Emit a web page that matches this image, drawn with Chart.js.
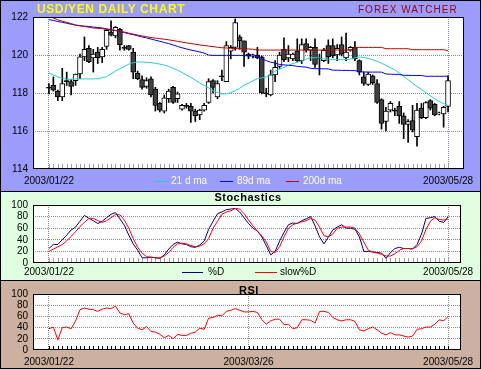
<!DOCTYPE html>
<html><head><meta charset="utf-8">
<script src="https://cdn.jsdelivr.net/npm/chart.js@4.4.1/dist/chart.umd.min.js"></script>
<style>
html,body{margin:0;padding:0;background:#fff;}
#wrap{position:relative;width:481px;height:369px;overflow:hidden;background:#000;font-family:"Liberation Sans",Arial,sans-serif;}
.panel{position:absolute;left:0;width:481px;}
.panel canvas{position:absolute;left:0;top:0;}
#p1{top:0;height:191px;background:#9c9cfa;}
#p2{top:192px;height:88px;background:#e0ffe0;}
#p3{top:281px;height:88px;background:#ccb0a0;}
#frame{position:absolute;left:0;top:0;width:481px;height:369px;box-sizing:border-box;border:1px solid #000;pointer-events:none;z-index:9;}
.txt{position:absolute;white-space:nowrap;line-height:1;z-index:5;}
.ln{position:absolute;height:1px;z-index:5;}
.ctr{text-align:center;width:200px;}
</style>
</head><body>
<div id="wrap">
  <div class="panel" id="p1"><canvas id="c1" width="481" height="191"></canvas></div>
  <div class="panel" id="p2"><canvas id="c2" width="481" height="88"></canvas></div>
  <div class="panel" id="p3"><canvas id="c3" width="481" height="88"></canvas></div>

  <div class="txt" style="left:37px;top:3px;font-size:12px;font-weight:bold;color:#ffff00;letter-spacing:0.6px">USD/YEN DAILY CHART</div>
  <div class="txt" style="left:358px;top:5px;font-size:10px;color:#990000;letter-spacing:1px">FOREX WATCHER</div>

  <div class="ln" style="left:154px;top:181px;width:14px;background:#20d0d0"></div>
  <div class="txt" style="left:171px;top:176px;font-size:10px;color:#fff">21 d ma</div>
  <div class="ln" style="left:220px;top:181px;width:13px;background:#0000ff"></div>
  <div class="txt" style="left:237px;top:176px;font-size:10px;color:#fff">89d ma</div>
  <div class="ln" style="left:286px;top:181px;width:13px;background:#c00000"></div>
  <div class="txt" style="left:303px;top:176px;font-size:10px;color:#fff">200d ma</div>

  <div class="txt ctr" style="left:148px;top:192px;font-size:11px;font-weight:bold;color:#000;letter-spacing:0.5px">Stochastics</div>
  <div class="ln" style="left:182px;top:272px;width:21px;background:#000080"></div>
  <div class="txt" style="left:208px;top:267px;font-size:10px;color:#000">%D</div>
  <div class="ln" style="left:255px;top:272px;width:22px;background:#ff0000"></div>
  <div class="txt" style="left:280px;top:267px;font-size:10px;color:#000">slow%D</div>

  <div class="txt ctr" style="left:149px;top:285px;font-size:11px;font-weight:bold;color:#000;letter-spacing:0.5px">RSI</div>
  <div id="frame"></div>
</div>
<script>
// ---------- data ----------
const dates = [
 '2003/01/22','2003/01/23','2003/01/24','2003/01/27','2003/01/28','2003/01/29','2003/01/30','2003/01/31',
 '2003/02/03','2003/02/04','2003/02/05','2003/02/06','2003/02/07','2003/02/10','2003/02/11','2003/02/12','2003/02/13','2003/02/14',
 '2003/02/17','2003/02/18','2003/02/19','2003/02/20','2003/02/21','2003/02/24','2003/02/25','2003/02/26','2003/02/27','2003/02/28',
 '2003/03/03','2003/03/04','2003/03/05','2003/03/06','2003/03/07','2003/03/10','2003/03/11','2003/03/12','2003/03/13','2003/03/14',
 '2003/03/17','2003/03/18','2003/03/19','2003/03/20','2003/03/21','2003/03/24','2003/03/25','2003/03/26','2003/03/27','2003/03/28','2003/03/31',
 '2003/04/01','2003/04/02','2003/04/03','2003/04/04','2003/04/07','2003/04/08','2003/04/09','2003/04/10','2003/04/11',
 '2003/04/14','2003/04/15','2003/04/16','2003/04/17','2003/04/18','2003/04/21','2003/04/22','2003/04/23','2003/04/24','2003/04/25',
 '2003/04/28','2003/04/29','2003/04/30',
 '2003/05/01','2003/05/02','2003/05/05','2003/05/06','2003/05/07','2003/05/08','2003/05/09','2003/05/12','2003/05/13','2003/05/14',
 '2003/05/15','2003/05/16','2003/05/19','2003/05/20','2003/05/21','2003/05/22','2003/05/23','2003/05/26','2003/05/27','2003/05/28'
];
const tickDatesMain = ['2003/01/22','2003/05/28'];
const tickDatesRsi = ['2003/01/22','2003/03/26','2003/05/28'];
const priceTicks = [114,116,118,120,122];
const pctTicks = [0,20,40,60,80,100];

const open = [118.25,118.4,118.1,117.8,118.6,118.6,118.65,119.0,119.9,120.35,
119.85,120.15,119.9,120.45,121.2,121.0,121.35,120.35,120.5,120.15,
119.05,118.7,118.35,118.75,118.2,117.45,117.05,117.7,118.3,117.7,
117.15,117.3,117.3,117.05,116.85,117.1,117.5,118.65,117.8,118.85,
118.6,120.2,120.4,120.95,120.75,120.05,119.95,120.0,119.9,117.95,
117.9,118.95,119.4,120.3,119.85,119.8,120.2,119.7,120.6,120.25,
120.4,119.8,119.7,120.5,120.5,120.0,120.55,119.85,120.25,120.4,
119.7,118.85,118.45,118.9,118.5,117.65,116.5,117.1,117.05,117.3,
116.8,116.35,116.55,115.7,117.2,116.7,117.6,117.4,116.9,116.9,
117.3];
const high = [118.5,118.85,118.15,119.3,119.1,118.7,119.0,120.05,120.95,120.5,
120.3,120.4,120.4,121.35,121.8,121.5,121.4,120.5,120.5,120.35,
119.15,118.9,118.8,118.85,118.3,117.5,117.9,118.2,118.35,118.05,
117.4,117.45,117.45,117.15,117.15,117.45,118.75,118.7,118.65,119.2,
120.7,120.5,121.9,121.05,120.75,120.1,120.05,120.4,119.95,118.25,
119.2,119.7,120.15,120.9,120.5,120.1,120.85,120.85,120.85,120.45,
120.85,120.05,120.35,120.8,120.85,120.55,120.95,121.15,120.45,120.7,
119.75,119.1,119.1,118.95,118.7,117.7,117.25,117.55,117.2,117.55,
116.95,116.6,117.35,117.45,117.45,117.55,117.65,117.45,117.0,117.3,
118.9];
const low = [117.95,118.1,117.6,117.6,118.4,117.9,118.4,118.75,119.7,119.6,
119.1,119.55,119.6,120.3,121.0,120.9,120.25,120.25,120.25,118.75,
118.7,118.2,118.25,117.8,117.05,117.0,116.95,117.5,117.45,117.5,
117.1,117.2,116.45,116.5,116.6,117.05,117.45,118.0,117.7,118.65,
118.6,119.8,120.25,120.3,119.4,119.8,119.85,119.8,117.95,117.8,
117.85,118.6,119.3,119.65,119.65,119.7,119.65,119.55,120.15,119.7,
119.35,118.95,119.65,119.55,119.85,119.7,119.95,119.7,120.2,119.7,
118.95,118.4,118.4,118.45,117.45,116.1,116.0,117.0,116.8,116.4,
115.6,115.4,115.95,115.2,116.65,116.65,117.1,116.8,116.85,116.2,
117.0];
const close = [118.25,118.15,117.8,118.5,118.6,118.35,119.0,119.9,120.3,119.65,
120.05,119.85,120.3,121.3,121.05,121.45,120.55,120.35,120.3,119.1,
118.75,118.3,118.65,117.9,117.35,117.1,117.75,118.1,117.5,117.95,
117.35,117.3,117.05,116.8,117.1,117.35,118.6,118.3,118.5,118.85,
120.5,120.4,121.7,120.75,120.15,119.95,120.0,119.85,118.0,117.95,
118.95,119.35,120.0,119.75,120.05,120.05,119.7,120.55,120.25,120.4,
119.5,119.8,120.25,119.9,119.95,120.35,120.05,120.15,120.4,119.8,
119.1,118.5,119.0,118.55,117.5,116.4,117.05,117.45,117.05,116.8,
116.35,116.5,116.05,117.1,116.7,117.5,117.2,116.85,116.95,117.25,
118.65];

const ma21 = [119.05,118.95,118.85,118.78,118.72,118.72,118.74,118.74,118.74,118.74,
118.74,118.76,118.8,118.86,119.0,119.15,119.28,119.4,119.52,119.6,
119.63,119.63,119.62,119.6,119.56,119.52,119.47,119.4,119.3,119.2,
119.08,118.95,118.82,118.68,118.53,118.4,118.27,118.12,118.03,117.95,
117.95,118.02,118.12,118.25,118.42,118.52,118.65,118.75,118.8,118.85,
118.95,119.15,119.25,119.35,119.45,119.55,119.62,119.7,119.78,119.86,
119.86,119.84,119.8,119.78,119.76,119.75,119.75,119.76,119.78,119.85,
119.89,119.87,119.82,119.75,119.67,119.57,119.45,119.33,119.22,119.05,
118.88,118.7,118.52,118.34,118.18,118.02,117.85,117.7,117.55,117.44,
117.35];
const ma89 = [121.86,121.82,121.76,121.72,121.67,121.62,121.57,121.54,121.52,121.5,
121.47,121.45,121.42,121.38,121.33,121.29,121.24,121.18,121.12,121.07,
121.01,120.95,120.9,120.84,120.78,120.72,120.66,120.6,120.53,120.45,
120.38,120.32,120.26,120.21,120.16,120.1,120.0,119.98,119.98,119.98,
119.98,119.98,119.98,119.98,119.97,119.95,119.95,119.95,119.8,119.7,
119.62,119.58,119.5,119.48,119.46,119.44,119.4,119.38,119.36,119.3,
119.28,119.28,119.27,119.27,119.2,119.2,119.19,119.19,119.18,119.18,
119.12,119.11,119.1,119.1,119.1,119.1,119.0,118.99,118.98,118.98,
118.93,118.93,118.92,118.92,118.92,118.88,118.88,118.88,118.88,118.88,
118.88];
const ma200 = [122.0,121.95,121.85,121.78,121.72,121.65,121.58,121.54,121.5,121.46,
121.42,121.4,121.38,121.35,121.32,121.29,121.25,121.21,121.15,121.1,
121.05,121.0,120.96,120.92,120.89,120.86,120.83,120.8,120.76,120.72,
120.68,120.64,120.6,120.57,120.53,120.5,120.47,120.44,120.41,120.38,
120.37,120.35,120.34,120.33,120.33,120.32,120.3,120.26,120.26,120.26,
120.26,120.26,120.26,120.26,120.26,120.26,120.26,120.26,120.26,120.26,
120.26,120.26,120.26,120.26,120.26,120.26,120.26,120.26,120.26,120.4,
120.4,120.4,120.4,120.4,120.4,120.4,120.33,120.33,120.33,120.33,
120.33,120.33,120.28,120.28,120.28,120.28,120.28,120.28,120.28,120.28,
120.22];

const stochD = [25,32,32,40,48,57,62,72,82,77, 73,68,72,78,84,87,76,65,48,33,
22,9,9,10,9,8,14,24,32,36, 33,32,28,27,31,38,58,72,85,88,
92,93,94,88,78,68,60,55,45,30, 14,20,38,53,66,69,68,73,76,80,
64,45,33,45,57,62,66,60,60,58, 45,20,20,19,18,17,8,18,25,27,
25,25,24,32,50,77,78,80,72,70, 80];
const stochSlowD = [20,24,28,32,38,46,54,63,70,77, 77,73,70,73,78,84,83,74,60,42,
27,17,11,10,9,9,12,18,27,33, 34,33,30,28,29,33,42,60,72,84,
88,90,94,93,85,74,64,55,47,36, 20,18,28,45,60,66,69,71,73,77,
74,62,47,45,50,60,62,62,62,60, 50,36,22,19,17,15,12,12,16,22,
25,25,25,28,38,58,72,78,75,74, 76];
const rsi = [38,41,18,40,41,38,52,72,75,73, 72,69,73,75,74,78,66,63,65,48,
39,36,42,33,32,28,22,26,20,28, 26,26,30,32,39,37,57,58,62,61,
69,71,74,71,68,68,69,67,54,46, 52,55,55,45,46,38,40,54,54,53,
48,69,69,67,58,54,52,54,54,51, 36,34,38,41,36,30,27,31,27,27,
25,23,25,37,38,41,41,46,54,52, 60];

// ---------- chart helpers ----------
Chart.defaults.font.family = '"Liberation Sans", Arial, sans-serif';
Chart.defaults.font.size = 10;
Chart.defaults.color = '#000';

const deco = {
  id: 'deco',
  beforeDraw(chart) {
    const a = chart.chartArea, c = chart.ctx;
    c.save(); c.fillStyle = '#fff';
    c.fillRect(a.left, a.top, a.right - a.left, a.bottom - a.top); c.restore();
  },
  beforeDatasetsDraw(chart, args, o) {
    const a = chart.chartArea, c = chart.ctx, xs = chart.scales.x;
    c.save(); c.strokeStyle = o.tickColor; c.lineWidth = 1; c.beginPath();
    dates.forEach((d, i) => {
      const x = Math.round(xs.getPixelForValue(i)) + 0.5;
      c.moveTo(x, a.bottom - o.tickLen); c.lineTo(x, a.bottom);
    });
    c.stroke(); c.restore();
  },
  afterDatasetsDraw(chart) {
    const a = chart.chartArea, c = chart.ctx;
    c.save(); c.strokeStyle = '#000'; c.lineWidth = 1;
    c.strokeRect(Math.round(a.left) + 0.5, Math.round(a.top) + 0.5,
      Math.round(a.right - a.left) - 1, Math.round(a.bottom - a.top) - 1);
    c.restore();
  }
};

function xAxis(tickDates, xmax, height, pad) {
  return {
    type: 'linear', min: -3.6, max: xmax, offset: false,
    afterBuildTicks: s => { s.ticks = tickDates.map(d => ({ value: dates.indexOf(d) })); },
    ticks: { autoSkip: false, maxRotation: 0, padding: pad, callback: v => dates[v] },
    grid: { color: '#888', drawTicks: false, offset: false },
    border: { display: false, dash: [1, 1] },
    afterFit: s => { s.height = height; }
  };
}
function yAxis(tickVals) {
  const min = tickVals[0], max = tickVals[tickVals.length - 1];
  return {
    min: min, max: max,
    afterBuildTicks: s => { s.ticks = tickVals.map(v => ({ value: v })); },
    ticks: { autoSkip: false, padding: 5 },
    grid: { color: c => (c.tick.value === min || c.tick.value === max) ? 'rgba(0,0,0,0)' : '#888', drawTicks: false },
    border: { display: false, dash: [1, 1] },
    afterFit: s => { s.width = 33; }
  };
}
function lineDs(arr, color) {
  return { type: 'line', data: arr.map((v, i) => ({ x: i, y: v })), borderColor: color,
    borderWidth: 1, pointRadius: 0, tension: 0, fill: false };
}
const baseOpts = { responsive: false, animation: false, devicePixelRatio: 1, events: [] };

// ---------- price chart ----------
const bodyColor = close.map((c, i) => c > open[i] ? '#ffffff' : (c < open[i] ? '#404040' : '#000000'));
new Chart(document.getElementById('c1'), {
  type: 'bar',
  data: { datasets: [
    lineDs(ma200, '#c00000'),
    lineDs(ma89, '#0000ff'),
    lineDs(ma21, '#20d0d0'),
    { type: 'bar', data: open.map((o, i) => ({ x: i, y: [o, close[i]] })), backgroundColor: bodyColor,
      borderColor: '#000', borderWidth: 1, borderSkipped: false, barThickness: 5, minBarLength: 1, grouped: false },
    { type: 'bar', data: low.map((l, i) => ({ x: i, y: [l, high[i]] })), backgroundColor: '#000',
      borderWidth: 0, barThickness: 1, grouped: false }
  ]},
  options: Object.assign({}, baseOpts, {
    layout: { padding: { left: 0, top: 17, right: 17, bottom: 0 } },
    scales: { x: xAxis(tickDatesMain, 93.6, 22, 6), y: yAxis(priceTicks) },
    plugins: { legend: { display: false }, tooltip: { enabled: false }, deco: { tickColor: '#a0a0a0', tickLen: 5 } }
  }),
  plugins: [deco]
});

// ---------- stochastics ----------
new Chart(document.getElementById('c2'), {
  type: 'line',
  data: { datasets: [ lineDs(stochSlowD, '#ff0000'), lineDs(stochD, '#000080') ] },
  options: Object.assign({}, baseOpts, {
    layout: { padding: { left: 0, top: 13, right: 20, bottom: 0 } },
    scales: { x: xAxis(tickDatesMain, 92.9, 17, 3), y: yAxis(pctTicks) },
    plugins: { legend: { display: false }, tooltip: { enabled: false }, deco: { tickColor: '#a0a0a0', tickLen: 5 } }
  }),
  plugins: [deco]
});

// ---------- RSI ----------
new Chart(document.getElementById('c3'), {
  type: 'line',
  data: { datasets: [ lineDs(rsi, '#ff0000') ] },
  options: Object.assign({}, baseOpts, {
    layout: { padding: { left: 0, top: 13, right: 20, bottom: 0 } },
    scales: { x: xAxis(tickDatesRsi, 92.9, 19, 6), y: yAxis(pctTicks) },
    plugins: { legend: { display: false }, tooltip: { enabled: false }, deco: { tickColor: '#000', tickLen: 4 } }
  }),
  plugins: [deco]
});
</script>
</body></html>
